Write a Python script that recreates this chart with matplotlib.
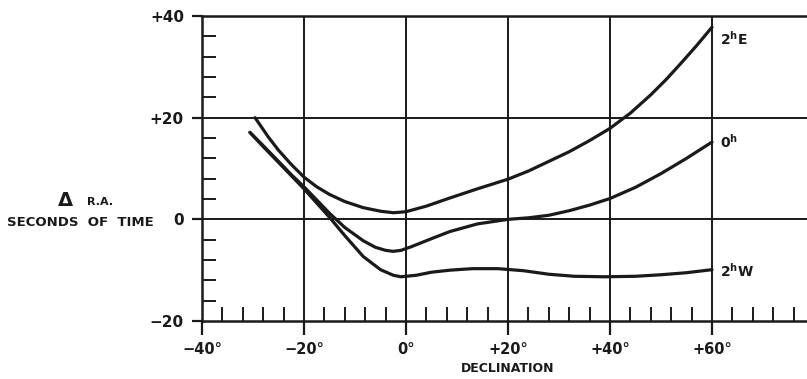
import matplotlib
matplotlib.use("Agg")
import matplotlib.pyplot as plt
from matplotlib.ticker import MultipleLocator

# Data (declination in degrees, delta R.A. in seconds of time)
dec_2hE = [-29.6, -27, -25, -22.5, -20, -17.5, -15, -12, -8.4, -5, -2.5, 0, 4, 8.6, 14, 20, 24, 28, 32, 36, 40, 44, 48, 51, 54, 57, 60]
ra_2hE = [20.0, 16.2, 13.6, 10.8, 8.3, 6.4, 4.9, 3.5, 2.3, 1.6, 1.3, 1.5, 2.6, 4.2, 6.0, 7.9, 9.5, 11.4, 13.3, 15.5, 17.9, 20.9, 24.5, 27.5, 30.8, 34.2, 37.8]

dec_0h = [-30.6, -28, -25, -22.5, -20, -17.5, -15, -12, -8.4, -6, -4, -2.5, -1, 1, 3, 5, 8.6, 14, 20, 24, 28, 32, 36, 40, 45, 50, 55, 60]
ra_0h = [17.1, 14.5, 11.4, 8.8, 6.4, 3.8, 1.2, -1.6, -4.2, -5.5, -6.1, -6.3, -6.1, -5.4, -4.6, -3.8, -2.4, -0.9, 0.0, 0.3, 0.8, 1.7, 2.8, 4.1, 6.3, 9.0, 12.0, 15.2]

dec_2hW = [-30.6, -28, -25, -22.5, -20, -17.5, -15, -12, -8.4, -5, -2.5, -1, 2, 5, 8.6, 13, 18, 23, 28, 33, 39, 45, 50, 55, 60]
ra_2hW = [17.1, 14.3, 11.2, 8.6, 6.0, 3.2, 0.4, -3.2, -7.3, -9.9, -11.0, -11.3, -11.0, -10.4, -10.0, -9.7, -9.7, -10.1, -10.8, -11.2, -11.3, -11.2, -10.9, -10.5, -9.9]

curve_labels = ["2$^{\\mathbf{h}}$E", "0$^{\\mathbf{h}}$", "2$^{\\mathbf{h}}$W"]
label_y = [35.6, 15.2, -10.2]

xticks = [-40, -20, 0, 20, 40, 60]
xticklabels = ["\u221240\u00b0", "\u221220\u00b0", "0\u00b0", "+20\u00b0", "+40\u00b0", "+60\u00b0"]
yticks = [-20, 0, 20, 40]
yticklabels = ["\u221220", "0", "+20", "+40"]

plt.rcParams['font.family'] = ['DejaVu Sans']
plt.rcParams['font.weight'] = 'bold'
plt.rcParams['mathtext.default'] = 'bf'

fig = plt.figure(figsize=(8.07, 3.79), dpi=100)
ax = fig.add_axes([0.2503, 0.1530, 0.7584, 0.8048])
ax.set_xlim(-40, 80)
ax.set_ylim(-20, 40)

ink = '#1a1a1a'
for v in [-20, 0, 20, 40, 60]:
    ax.axvline(v, color=ink, lw=1.4, zorder=1)
for v in [0, 20]:
    ax.axhline(v, color=ink, lw=1.4, zorder=1)

for xs, ys in [(dec_2hE, ra_2hE), (dec_0h, ra_0h), (dec_2hW, ra_2hW)]:
    ax.plot(xs, ys, color=ink, lw=2.3, solid_capstyle='round', zorder=3)

for lab, yv in zip(curve_labels, label_y):
    ax.text(61.5, yv, lab, fontsize=10, fontweight='bold', color=ink,
            va='center', ha='left')

for side in ['left', 'bottom', 'top']:
    ax.spines[side].set_linewidth(1.8)
    ax.spines[side].set_color(ink)
ax.spines['right'].set_visible(False)

ax.set_xticks(xticks)
ax.set_xticklabels(xticklabels)
ax.set_yticks(yticks)
ax.set_yticklabels(yticklabels)
ax.xaxis.set_minor_locator(MultipleLocator(4))
ax.yaxis.set_minor_locator(MultipleLocator(4))
ax.tick_params(axis='x', which='major', direction='out', length=10, width=1.6,
               colors=ink, labelsize=10.5, pad=5)
ax.tick_params(axis='y', which='major', direction='out', length=7, width=1.6,
               colors=ink, labelsize=11, pad=6)
ax.tick_params(axis='both', which='minor', direction='in', length=10, width=1.4,
               colors=ink)
for t in ax.get_xticklabels() + ax.get_yticklabels():
    t.set_fontweight('bold')

ax.set_xlabel("DECLINATION", fontsize=9, fontweight='bold', color=ink, labelpad=4)

fig.text(0.081, 0.470, "\u0394", fontsize=14, fontweight='bold', color=ink, ha='center', va='center')
fig.text(0.124, 0.466, "R.A.", fontsize=8, fontweight='bold', color=ink, ha='center', va='center')
fig.text(0.0998, 0.414, "SECONDS  OF  TIME", fontsize=9.5, fontweight='bold', color=ink, ha='center', va='center')

fig.savefig("out.png", dpi=100)
